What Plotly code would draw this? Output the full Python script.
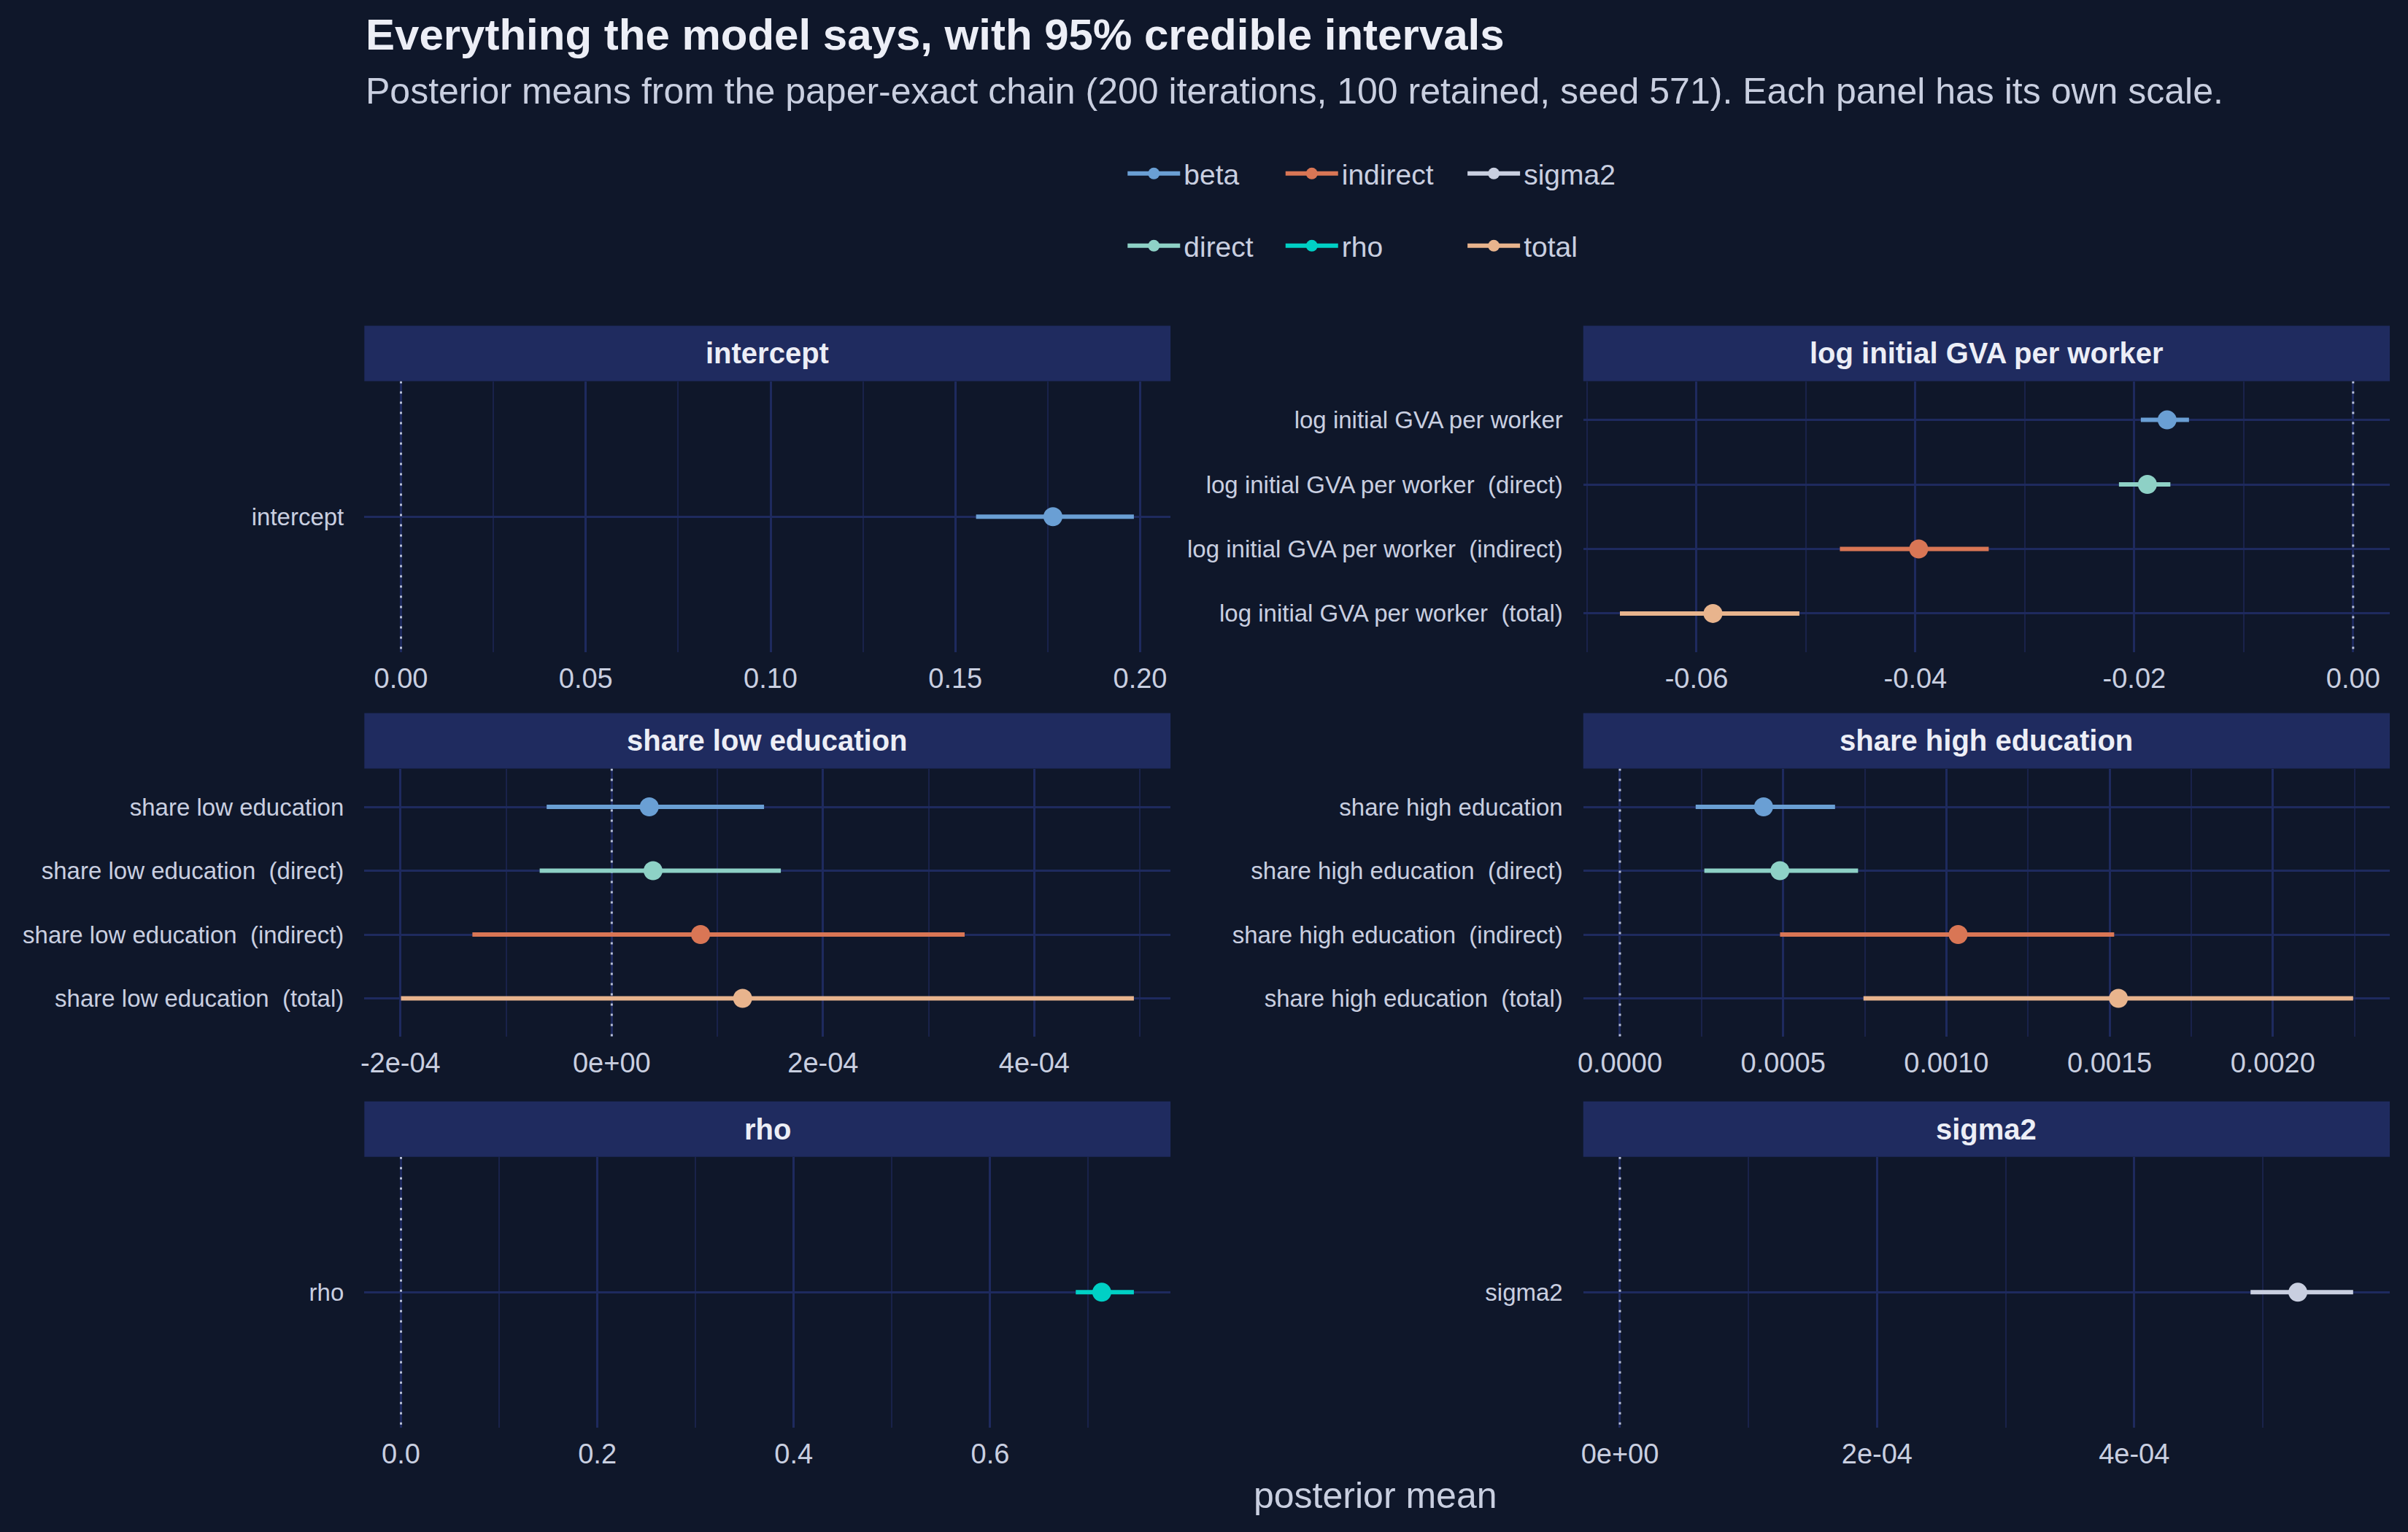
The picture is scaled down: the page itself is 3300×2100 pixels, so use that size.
import plotly.graph_objects as go
from plotly.subplots import make_subplots

W, H = 3300, 2100

# ---------------- data ----------------
panels = ["intercept", "log initial GVA per worker", "share low education",
          "share high education", "rho", "sigma2"]

panel_of = ["intercept",
            "log initial GVA per worker", "log initial GVA per worker",
            "log initial GVA per worker", "log initial GVA per worker",
            "share low education", "share low education",
            "share low education", "share low education",
            "share high education", "share high education",
            "share high education", "share high education",
            "rho", "sigma2"]
term = ["intercept",
        "log initial GVA per worker", "log initial GVA per worker  (direct)",
        "log initial GVA per worker  (indirect)", "log initial GVA per worker  (total)",
        "share low education", "share low education  (direct)",
        "share low education  (indirect)", "share low education  (total)",
        "share high education", "share high education  (direct)",
        "share high education  (indirect)", "share high education  (total)",
        "rho", "sigma2"]
series = ["beta",
          "beta", "direct", "indirect", "total",
          "beta", "direct", "indirect", "total",
          "beta", "direct", "indirect", "total",
          "rho", "sigma2"]
mean = [0.1764,
        -0.0170, -0.0188, -0.0397, -0.0585,
        3.55e-5, 3.91e-5, 8.41e-5, 1.239e-4,
        4.40e-4, 4.90e-4, 1.036e-3, 1.527e-3,
        0.7137, 5.273e-4]
lo = [0.1556,
      -0.0194, -0.0214, -0.0469, -0.0670,
      -6.16e-5, -6.82e-5, -1.319e-4, -1.995e-4,
      2.32e-4, 2.585e-4, 4.905e-4, 7.46e-4,
      0.6872, 4.905e-4]
hi = [0.1983,
      -0.0150, -0.0167, -0.0333, -0.0506,
      1.442e-4, 1.601e-4, 3.341e-4, 4.943e-4,
      6.59e-4, 7.295e-4, 1.514e-3, 2.246e-3,
      0.7464, 5.703e-4]

# legend layout: ggplot column-major order in a 2-row grid
legend_order = ["beta", "direct", "indirect", "rho", "sigma2", "total"]
series_colors = {"beta": "#6a9fd4", "direct": "#8ed1c6", "indirect": "#d97655",
                 "rho": "#00d0c5", "sigma2": "#c9cfe0", "total": "#e8b48d"}

tickvals = {
    "intercept": [0, 0.05, 0.10, 0.15, 0.20],
    "log initial GVA per worker": [-0.06, -0.04, -0.02, 0.0],
    "share low education": [-2e-4, 0, 2e-4, 4e-4],
    "share high education": [0, 0.0005, 0.0010, 0.0015, 0.0020],
    "rho": [0, 0.2, 0.4, 0.6],
    "sigma2": [0, 2e-4, 4e-4],
}
ticktext = {
    "intercept": ["0.00", "0.05", "0.10", "0.15", "0.20"],
    "log initial GVA per worker": ["-0.06", "-0.04", "-0.02", "0.00"],
    "share low education": ["-2e-04", "0e+00", "2e-04", "4e-04"],
    "share high education": ["0.0000", "0.0005", "0.0010", "0.0015", "0.0020"],
    "rho": ["0.0", "0.2", "0.4", "0.6"],
    "sigma2": ["0e+00", "2e-04", "4e-04"],
}

# ---------------- style / layout ----------------
BG = "#0f172a"
STRIP = "#1f2b5f"
GRID = "#1e2a5e"
GRID_MINOR = "#19224a"
TXT = "#c9cfe0"
TXT_HI = "#eceef6"
FONT = "Liberation Sans, Arial, Helvetica, sans-serif"

col_x = [(492.5, 1600.0), (2167.0, 3275.0)]
row_y = [(522.5, 894.0), (1053.5, 1421.0), (1585.7, 1957.0)]
STRIP_H = 76.0
LEG_COL_X = [1536, 1753, 2003]
LEG_ROW_Y = [238, 337]

fig = make_subplots(rows=3, cols=2)

for i, p in enumerate(panels):
    r, c = i // 2 + 1, i % 2 + 1
    n = i + 1
    idx = [k for k in range(len(term)) if panel_of[k] == p]
    cats = [term[k] for k in idx]
    for s in series_colors:
        ks = [k for k in idx if series[k] == s]
        if not ks:
            continue
        col = series_colors[s]
        xs, ys = [], []
        for k in ks:
            xs += [lo[k], hi[k], None]
            ys += [term[k], term[k], None]
        fig.add_trace(go.Scatter(x=xs, y=ys, mode="lines",
                                 line=dict(color=col, width=6),
                                 showlegend=False, hoverinfo="skip"), row=r, col=c)
        fig.add_trace(go.Scatter(x=[mean[k] for k in ks], y=[term[k] for k in ks],
                                 mode="markers", marker=dict(color=col, size=26),
                                 showlegend=False), row=r, col=c)

    vmin = min([lo[k] for k in idx] + [0.0])
    vmax = max([hi[k] for k in idx] + [0.0])
    span = vmax - vmin
    xr = [vmin - 0.05 * span, vmax + 0.05 * span]
    major = tickvals[p][1] - tickvals[p][0]

    x0, x1 = col_x[c - 1]
    top, bot = row_y[r - 1]
    xa = "xaxis" if n == 1 else f"xaxis{n}"
    ya = "yaxis" if n == 1 else f"yaxis{n}"
    fig.layout[xa].update(domain=[x0 / W, x1 / W], range=xr,
                          tickmode="array", tickvals=tickvals[p], ticktext=ticktext[p],
                          showgrid=True, gridcolor=GRID, gridwidth=3,
                          minor=dict(showgrid=True, gridcolor=GRID_MINOR, gridwidth=1.5,
                                     tickmode="linear", tick0=0, dtick=major / 2),
                          zeroline=False, showline=False, ticks="",
                          ticklabelstandoff=10,
                          tickfont=dict(family=FONT, size=38, color=TXT))
    fig.layout[ya].update(domain=[1 - bot / H, 1 - top / H],
                          type="category", categoryorder="array", categoryarray=cats,
                          range=[len(cats) - 0.4, -0.6],
                          showgrid=True, gridcolor=GRID, gridwidth=3,
                          zeroline=False, showline=False, ticks="",
                          ticklabelstandoff=27,
                          tickfont=dict(family=FONT, size=33, color=TXT))

    # zero reference line (between gridlines and traces)
    fig.add_shape(type="line", xref="x" if n == 1 else f"x{n}",
                  yref="y" if n == 1 else f"y{n}",
                  x0=0, x1=0, y0=-0.6, y1=len(cats) - 0.4, layer="between",
                  line=dict(color="#b8c0d8", width=3, dash="3px,11px"))
    # facet strip
    fig.add_shape(type="rect", xref="paper", yref="paper",
                  x0=x0 / W, x1=x1 / W, y0=1 - top / H, y1=1 - (top - STRIP_H) / H,
                  fillcolor=STRIP, line=dict(width=0), layer="below")
    fig.add_annotation(xref="paper", yref="paper", x=(x0 + x1) / 2 / W,
                       y=1 - (top - STRIP_H / 2) / H, text=f"<b>{p}</b>",
                       showarrow=False, xanchor="center", yanchor="middle",
                       font=dict(family=FONT, size=40, color=TXT_HI))

# legend entries: one legend box per grid cell (2 rows, column-major)
legend_layout = {}
for j, s in enumerate(legend_order):
    col = series_colors[s]
    lname = "legend" if j == 0 else f"legend{j + 1}"
    fig.add_trace(go.Scatter(x=[None], y=[None], mode="lines+markers", name=s,
                             line=dict(color=col, width=6),
                             marker=dict(color=col, size=26),
                             legend=lname),
                  row=1, col=1)
    legend_layout[lname] = dict(orientation="h", xanchor="left", yanchor="middle",
                                x=LEG_COL_X[j // 2] / W, y=1 - LEG_ROW_Y[j % 2] / H,
                                bgcolor="rgba(0,0,0,0)",
                                font=dict(family=FONT, size=39, color=TXT),
                                itemwidth=72)
fig.update_layout(**legend_layout)

# titles
fig.add_annotation(xref="paper", yref="paper", x=492.5 / W, y=1 - 47 / H,
                   text="<b>Everything the model says, with 95% credible intervals</b>",
                   showarrow=False, xanchor="left", yanchor="middle",
                   font=dict(family=FONT, size=60, color=TXT_HI))
fig.add_annotation(xref="paper", yref="paper", x=492.5 / W, y=1 - 125 / H,
                   text="Posterior means from the paper-exact chain (200 iterations, 100 retained, seed 571). Each panel has its own scale.",
                   showarrow=False, xanchor="left", yanchor="middle",
                   font=dict(family=FONT, size=50, color=TXT))
fig.add_annotation(xref="paper", yref="paper", x=1882 / W, y=1 - 2050 / H,
                   text="posterior mean", showarrow=False,
                   xanchor="center", yanchor="middle",
                   font=dict(family=FONT, size=50, color=TXT))

fig.update_layout(width=W, height=H, margin=dict(l=0, r=0, t=0, b=0),
                  paper_bgcolor=BG, plot_bgcolor=BG,
                  font=dict(family=FONT, color=TXT), hovermode=False)

fig.write_html("out.html", config={"displayModeBar": False},
               post_script="document.body.style.margin='0';"
                           "document.body.style.overflow='hidden';"
                           "document.body.style.background='#0f172a';")
